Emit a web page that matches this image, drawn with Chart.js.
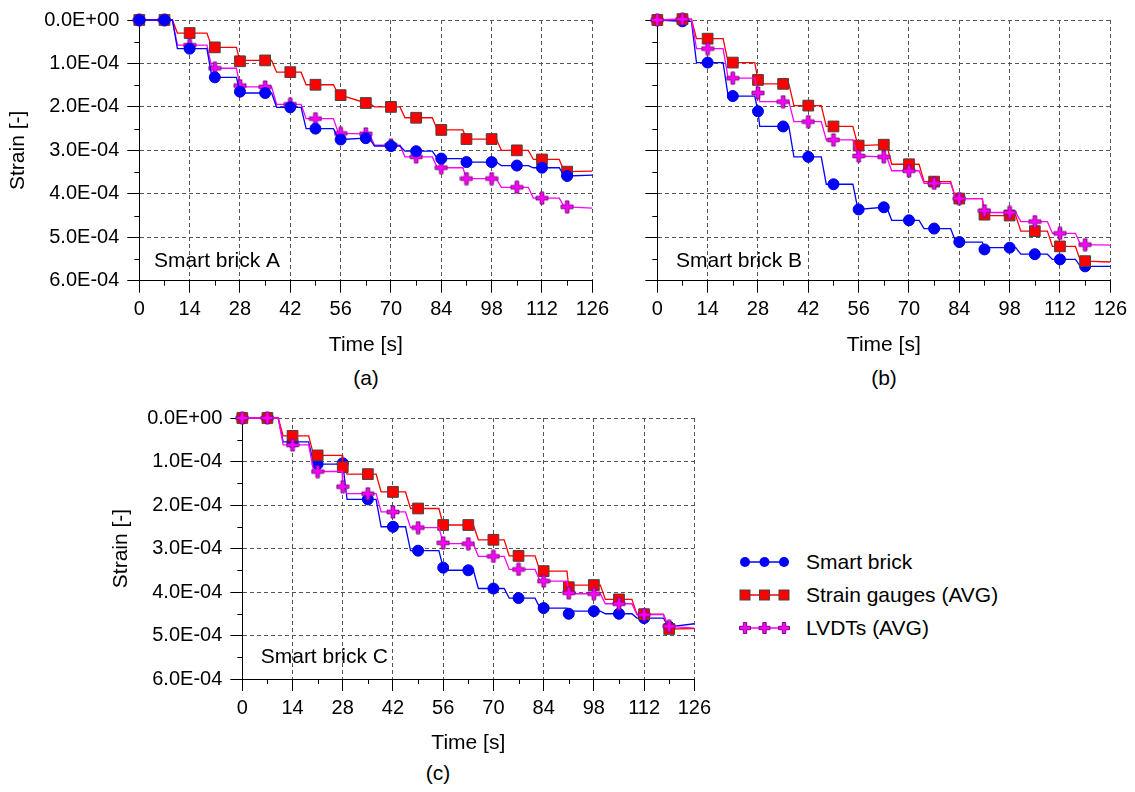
<!DOCTYPE html>
<html>
<head>
<meta charset="utf-8">
<script src="https://cdn.jsdelivr.net/npm/chart.js@4/dist/chart.umd.min.js"></script>
<style>
  body { margin: 0; width: 1135px; height: 792px; background: #fff; position: relative; overflow: hidden;
         font-family: "Liberation Sans", Arial, sans-serif; }
  canvas { position: absolute; }
  .lbl { position: absolute; font-size: 21px; color: #000; transform: translate(-50%, -50%); white-space: nowrap; }
  .leg { position: absolute; font-size: 21px; color: #000; transform: translateY(-50%); white-space: nowrap; }
</style>
</head>
<body>
<canvas id="chartA"></canvas>
<canvas id="chartB"></canvas>
<canvas id="chartC"></canvas>

<div class="lbl" style="left:366px; top:378px">(a)</div>
<div class="lbl" style="left:884px; top:378px">(b)</div>
<div class="lbl" style="left:438px; top:773px">(c)</div>

<svg style="position:absolute; left:730px; top:540px" width="70" height="105">
  <line x1="15" y1="22" x2="54" y2="22" stroke="#0000ff" stroke-width="1.3"/>
  <circle cx="15" cy="22" r="5" fill="#0000ff"/>
  <circle cx="34.5" cy="22" r="5" fill="#0000ff"/>
  <circle cx="54" cy="22" r="5" fill="#0000ff"/>
  <line x1="15" y1="55" x2="54" y2="55" stroke="#ff0000" stroke-width="1.3"/>
  <rect x="10" y="50" width="10" height="10" fill="#ff0000" stroke="#444"/>
  <rect x="29.5" y="50" width="10" height="10" fill="#ff0000" stroke="#444"/>
  <rect x="49" y="50" width="10" height="10" fill="#ff0000" stroke="#444"/>
  <line x1="15" y1="88" x2="54" y2="88" stroke="#ff00ff" stroke-width="1.3"/>
  <path id="pl" d="M-1.7,-5.5 H1.7 V-1.7 H5.5 V1.7 H1.7 V5.5 H-1.7 V1.7 H-5.5 V-1.7 H-1.7 Z" fill="#ff00ff" stroke="#7a0a7a" stroke-width="1" transform="translate(15,88)"/>
  <use href="#pl" x="19.5"/>
  <use href="#pl" x="39"/>
</svg>
<div class="leg" style="left:806px; top:562px">Smart brick</div>
<div class="leg" style="left:806px; top:595px">Strain gauges (AVG)</div>
<div class="leg" style="left:806px; top:628px">LVDTs (AVG)</div>

<script>
// time of each marker [s]; the last entry is only the end of the curve (no marker)
const times = [0, 7, 14, 21, 28, 35, 42, 49, 56, 63, 70, 77, 84, 91, 98, 105, 112, 119, 126];
const xTicks = [0, 14, 28, 42, 56, 70, 84, 98, 112, 126];
const yTicks = ['0.0E+00', '1.0E-04', '2.0E-04', '3.0E-04', '4.0E-04', '5.0E-04', '6.0E-04'];

// strain values in units of 1E-04
const smartA = [0, 0, 0.66, 1.32, 1.65, 1.68, 2.01, 2.50, 2.75, 2.72, 2.90, 3.02, 3.19, 3.27, 3.27, 3.35, 3.40, 3.59, 3.57];
const gaugeA = [0, 0, 0.30, 0.63, 0.95, 0.93, 1.20, 1.49, 1.73, 1.91, 2.00, 2.25, 2.53, 2.74, 2.74, 3.00, 3.21, 3.49, 3.48];
const lvdtA  = [0, 0, 0.58, 1.11, 1.51, 1.54, 1.94, 2.27, 2.61, 2.62, 2.88, 3.15, 3.40, 3.65, 3.65, 3.85, 4.10, 4.30, 4.33];

const smartB = [0, 0.03, 0.98, 1.75, 2.10, 2.45, 3.15, 3.78, 4.36, 4.31, 4.61, 4.80, 5.11, 5.28, 5.24, 5.39, 5.51, 5.67, 5.67];
const gaugeB = [0, -0.02, 0.43, 0.98, 1.38, 1.47, 1.97, 2.45, 2.89, 2.87, 3.32, 3.72, 4.11, 4.48, 4.50, 4.86, 5.21, 5.55, 5.57];
const lvdtB  = [0, -0.02, 0.66, 1.34, 1.68, 1.88, 2.34, 2.76, 3.13, 3.15, 3.47, 3.76, 4.11, 4.39, 4.43, 4.64, 4.91, 5.17, 5.18];

const smartC = [0, 0, 0.55, 1.06, 1.04, 1.87, 2.50, 3.05, 3.44, 3.50, 3.92, 4.14, 4.37, 4.50, 4.44, 4.50, 4.60, 4.80, 4.73];
const gaugeC = [0, 0, 0.41, 0.86, 1.13, 1.29, 1.70, 2.08, 2.46, 2.46, 2.80, 3.17, 3.52, 3.89, 3.84, 4.17, 4.51, 4.85, 4.84];
const lvdtC  = [0, 0, 0.62, 1.23, 1.58, 1.74, 2.16, 2.52, 2.87, 2.89, 3.18, 3.48, 3.75, 4.02, 4.04, 4.27, 4.52, 4.79, 4.83];

// times where a load step starts in each test [s]
const stepsA = [9.2, 18.8, 27, 36.8, 45, 54, 64, 72.5, 81.5, 90, 99.3, 108.2, 116.8];
const stepsB = [9.5, 18.3, 27.1, 36.6, 45.6, 54.4, 63.8, 72.8, 81.6, 90.4, 99.7, 108.5, 116.3];
const stepsC = [10, 18.5, 27.8, 37.3, 45.5, 54.8, 64.4, 73, 81.6, 90.5, 99.8, 108.6, 117.4];
const stepDur = 1.4;

Chart.defaults.font.family = '"Liberation Sans", Arial, sans-serif';
Chart.defaults.color = '#000';

function plusMarker(size) {
  const c = document.createElement('canvas');
  c.width = c.height = size;
  const g = c.getContext('2d');
  const m = size / 2, a = size * 0.13, e = 1;
  g.beginPath();
  g.moveTo(m - a, e); g.lineTo(m + a, e); g.lineTo(m + a, m - a); g.lineTo(size - e, m - a);
  g.lineTo(size - e, m + a); g.lineTo(m + a, m + a); g.lineTo(m + a, size - e); g.lineTo(m - a, size - e);
  g.lineTo(m - a, m + a); g.lineTo(e, m + a); g.lineTo(e, m - a); g.lineTo(m - a, m - a);
  g.closePath();
  g.fillStyle = '#ff00ff'; g.fill();
  g.strokeStyle = '#7a0a7a'; g.lineWidth = 1; g.stroke();
  return c;
}
const plus = plusMarker(14);

// staircase curve: readings at the markers plus the start/end of every load step
function stepLine(values, steps) {
  const pts = times.map((t, i) => ({x: t, y: values[i]}));
  steps.forEach(s => {
    let before = 0, after = values.length - 1;
    times.forEach((t, i) => { if (t <= s) before = i; });
    for (let i = times.length - 1; i >= 0; i--) if (times[i] >= s + stepDur) after = i;
    pts.push({x: s, y: values[before]}, {x: s + stepDur, y: values[after]});
  });
  return pts.sort((a, b) => a.x - b.x);
}
function markers(values) {
  return times.slice(0, -1).map((t, i) => ({x: t, y: values[i]}));
}

const styles = {
  smart: {color: '#0000ff', point: {pointStyle: 'circle', pointRadius: 5.5, pointBackgroundColor: '#0000ff', pointBorderColor: '#0000dd', pointBorderWidth: 1}},
  gauge: {color: '#ff0000', point: {pointStyle: 'rect', pointRadius: 7.6, pointBackgroundColor: '#ff0000', pointBorderColor: '#444', pointBorderWidth: 1}},
  lvdt:  {color: '#ff00ff', point: {pointStyle: plus, pointRadius: 7}}
};

const panelDeco = {
  id: 'panelDeco',
  afterDraw(chart, args, opts) {
    const {ctx, chartArea: ca, scales: {x, y}} = chart;
    ctx.save();
    ctx.strokeStyle = '#000';
    ctx.lineWidth = 1;
    ctx.beginPath();
    for (let t = 7; t < 126; t += 14) {
      const px = Math.round(x.getPixelForValue(t)) + 0.5;
      ctx.moveTo(px, ca.bottom); ctx.lineTo(px, ca.bottom + 5);
    }
    for (let v = 0.5; v < 6; v += 1) {
      const py = Math.round(y.getPixelForValue(v)) + 0.5;
      ctx.moveTo(ca.left, py); ctx.lineTo(ca.left - 5, py);
    }
    ctx.stroke();
    ctx.font = '21px "Liberation Sans", Arial, sans-serif';
    ctx.fillStyle = '#000';
    ctx.textBaseline = 'alphabetic';
    ctx.fillText(opts.text, ca.left + opts.dx, ca.bottom - opts.dy);
    ctx.restore();
  }
};

function makePanel(id, box, series, steps, drawOrder, deco, showY) {
  const cv = document.getElementById(id);
  const w = Math.ceil(box.plotR + 20 - box.left);
  const h = Math.ceil(box.plotB + 81 - box.top);
  cv.width = w; cv.height = h;
  cv.style.left = box.left + 'px'; cv.style.top = box.top + 'px';
  cv.style.width = w + 'px'; cv.style.height = h + 'px';

  const datasets = [];
  ['smart', 'gauge', 'lvdt'].forEach((key, k) => {
    const st = styles[key];
    datasets.push({
      data: stepLine(series[k], steps), borderColor: st.color, borderWidth: 1.3,
      pointRadius: 0, fill: false, tension: 0, order: drawOrder[k] * 2 + 1, clip: false
    });
    datasets.push(Object.assign({
      data: markers(series[k]), showLine: false, order: drawOrder[k] * 2, clip: false
    }, st.point));
  });

  const gridCommon = {color: '#555', lineWidth: 1, tickLength: 12, tickColor: '#000', tickWidth: 1, tickBorderDash: []};
  const borderCommon = {display: true, color: '#000', width: 1, dash: [4, 3]};

  new Chart(cv, {
    type: 'line',
    data: {datasets},
    options: {
      responsive: false, maintainAspectRatio: false, animation: false,
      layout: {padding: {top: box.plotT - box.top, right: box.left + w - box.plotR, left: 0, bottom: 0}},
      plugins: {legend: {display: false}, tooltip: {enabled: false}, panelDeco: deco},
      scales: {
        x: {
          type: 'linear', min: 0, max: 126,
          afterBuildTicks: s => { s.ticks = xTicks.map(v => ({value: v})); },
          ticks: {font: {size: 20}, color: '#000', padding: 5, maxRotation: 0, autoSkip: false,
                  callback: v => String(v)},
          grid: gridCommon, border: borderCommon,
          title: {display: true, text: 'Time [s]', font: {size: 21}, color: '#000', padding: {top: 4, bottom: 4}},
          afterFit: s => { s.height = h - (box.plotB - box.top); }
        },
        y: {
          type: 'linear', min: 0, max: 6, reverse: true,
          afterBuildTicks: s => { s.ticks = yTicks.map((_, i) => ({value: i})); },
          ticks: {font: {size: 20}, color: '#000', padding: 8, autoSkip: false,
                  callback: (v, i) => showY ? yTicks[i] : ''},
          grid: gridCommon, border: borderCommon,
          title: {display: showY, text: 'Strain [-]', font: {size: 21}, color: '#000', padding: {top: 4, bottom: 4}},
          afterFit: s => { s.width = box.plotL - box.left; }
        }
      }
    },
    plugins: [panelDeco]
  });
}

makePanel('chartA', {left: 2, top: 0, plotL: 139.3, plotR: 593.3, plotT: 16, plotB: 280.7},
  [smartA, gaugeA, lvdtA], stepsA, [0, 2, 1], {text: 'Smart brick A', dx: 14.7, dy: 14}, true);
makePanel('chartB', {left: 520, top: 0, plotL: 657.3, plotR: 1111.7, plotT: 16, plotB: 280.7},
  [smartB, gaugeB, lvdtB], stepsB, [2, 1, 0], {text: 'Smart brick B', dx: 18.7, dy: 14}, false);
makePanel('chartC', {left: 105, top: 398, plotL: 242.3, plotR: 696, plotT: 414.3, plotB: 679},
  [smartC, gaugeC, lvdtC], stepsC, [2, 1, 0], {text: 'Smart brick C', dx: 18.4, dy: 15.7}, true);
</script>
</body>
</html>
